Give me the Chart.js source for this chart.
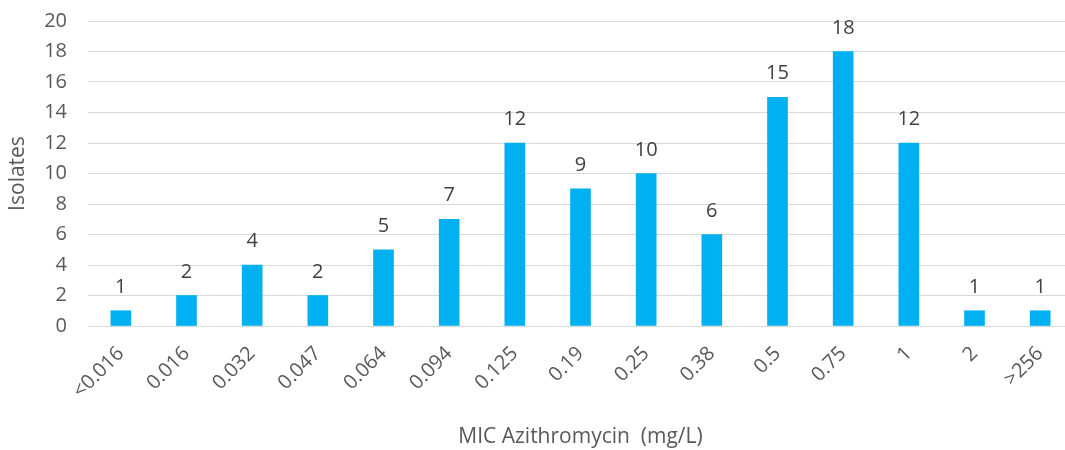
<!DOCTYPE html>
<html>
<head>
<meta charset="utf-8">
<script src="https://cdn.jsdelivr.net/npm/chart.js@4/dist/chart.umd.min.js"></script>
<style>
  html, body { margin: 0; padding: 0; background: #fff; overflow: hidden; }
  #wrap { width: 1080px; height: 450px; }
</style>
</head>
<body>
<div id="wrap"><canvas id="c" width="1080" height="450"></canvas></div>
<script>
// MIC distribution of azithromycin across isolates
const categories = ['<0.016', '0.016', '0.032', '0.047', '0.064', '0.094', '0.125', '0.19', '0.25', '0.38', '0.5', '0.75', '1', '2', '>256'];
const isolates = [1, 2, 4, 2, 5, 7, 12, 9, 10, 6, 15, 18, 12, 1, 1];
const yTicks = [0, 2, 4, 6, 8, 10, 12, 14, 16, 18, 20];

const FONT = '"Open Sans", sans-serif';

// Value labels above each bar
const valueLabels = {
  id: 'valueLabels',
  afterDatasetsDraw(chart) {
    const ctx = chart.ctx;
    const meta = chart.getDatasetMeta(0);
    ctx.save();
    ctx.fillStyle = '#404040';
    ctx.font = '20px ' + FONT;
    ctx.textAlign = 'center';
    ctx.textBaseline = 'alphabetic';
    meta.data.forEach((bar, i) => {
      ctx.fillText(String(isolates[i]), bar.x, bar.y - 18);
    });
    ctx.restore();
  }
};

new Chart(document.getElementById('c'), {
  type: 'bar',
  data: {
    labels: categories,
    datasets: [{
      data: isolates,
      backgroundColor: '#00B0F0',
      borderWidth: 0,
      barThickness: 20
    }]
  },
  options: {
    responsive: false,
    animation: false,
    layout: { padding: { top: 21, right: 7, left: 0, bottom: 0 } },
    plugins: {
      legend: { display: false },
      tooltip: { enabled: false }
    },
    scales: {
      x: {
        grid: { display: false, drawTicks: false },
        border: { display: true, color: '#d9d9d9', width: 1 },
        ticks: {
          color: '#595959',
          font: { family: FONT, size: 20 },
          minRotation: 45,
          maxRotation: 45,
          padding: 16
        },
        title: {
          display: true,
          text: 'MIC Azithromycin  (mg/L)',
          color: '#595959',
          font: { family: FONT, size: 21 },
          padding: { top: 4, bottom: 0 }
        },
        afterFit(scale) { scale.height = 124; }
      },
      y: {
        min: 0,
        max: 20,
        afterBuildTicks(scale) { scale.ticks = yTicks.map(v => ({ value: v })); },
        grid: { color: '#d9d9d9', lineWidth: 1, drawTicks: false },
        border: { display: false },
        ticks: {
          color: '#595959',
          font: { family: FONT, size: 20 },
          padding: 21
        },
        title: {
          display: true,
          text: 'Isolates',
          color: '#595959',
          font: { family: FONT, size: 21 },
          padding: { top: 5, bottom: 0 }
        },
        afterFit(scale) {
          scale.width = 88;
          scale.paddingTop = 0;
          scale.paddingBottom = 0;
        }
      }
    }
  },
  plugins: [valueLabels]
});
</script>
</body>
</html>
